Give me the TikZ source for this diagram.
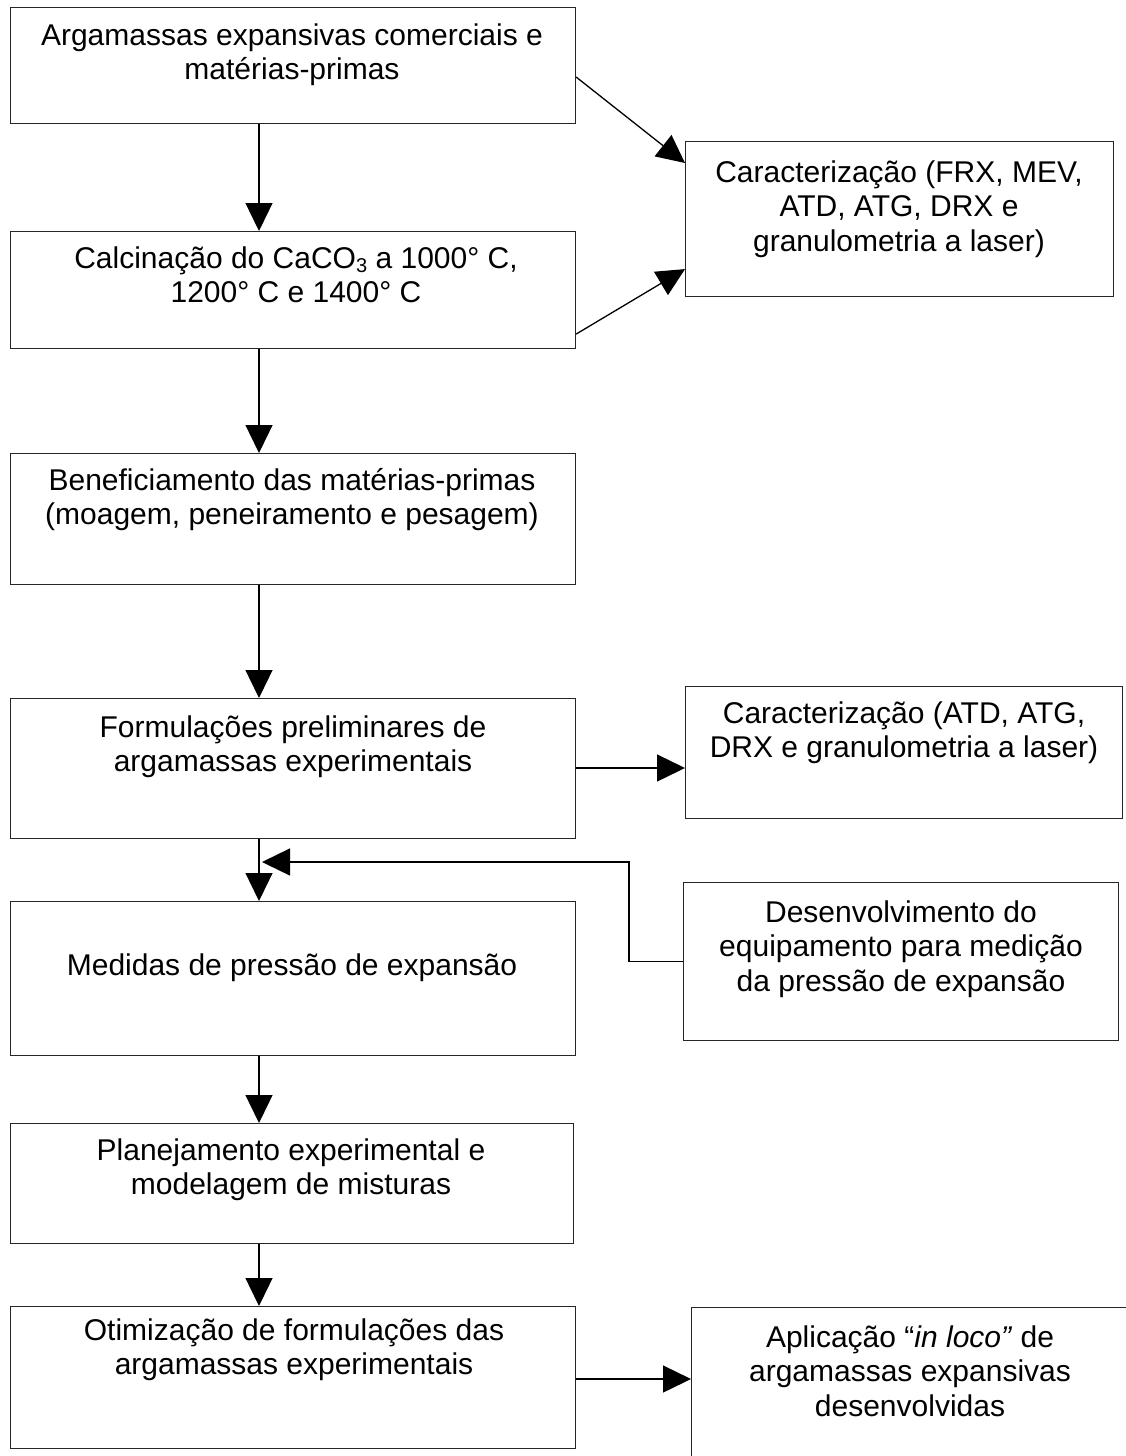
\documentclass[tikz,border=0pt]{standalone}
\usepackage{fontspec}
\setmainfont{Liberation Sans}
\usetikzlibrary{arrows.meta}
\begin{document}
\begin{tikzpicture}[x=1pt,y=-1pt,
  box/.style={draw=black!85, line width=1.1pt, rectangle, inner sep=0pt, anchor=north west},
  txt/.style={align=center, anchor=base, inner sep=0pt, font=\fontsize{30}{34.5}\selectfont},
  arr/.style={-{Triangle[length=28pt,width=27pt]}, line width=1.3pt, black}]
\useasboundingbox (0,0) rectangle (1126,1456);
\clip (0,0) rectangle (1126,1456);
% boxes
\node[box, minimum width=565pt, minimum height=116pt] (b1) at (10,7) {};
\node[box, minimum width=565pt, minimum height=117pt] (b2) at (10,231) {};
\node[box, minimum width=428pt, minimum height=155pt] (c1) at (685,141) {};
\node[box, minimum width=565pt, minimum height=131pt] (b3) at (10,453) {};
\node[box, minimum width=565pt, minimum height=140pt] (b4) at (10,698) {};
\node[box, minimum width=437pt, minimum height=132pt] (c2) at (685,686) {};
\node[box, minimum width=565pt, minimum height=154pt] (b5) at (10,901) {};
\node[box, minimum width=435pt, minimum height=158pt] (d) at (683,882) {};
\node[box, minimum width=563pt, minimum height=120pt] (b6) at (10,1123) {};
\node[box, minimum width=565pt, minimum height=142pt] (b7) at (10,1306) {};
\node[box, minimum width=470pt, minimum height=180pt] (ap) at (691,1307) {};
% texts (anchor base = baseline of the last line)
\node[txt] (t1) at (292,79.5) {Argamassas expansivas comerciais e\\matérias-primas};
\node[txt] (t2) at (296,302.5) {Calcinação do CaCO\raisebox{-4pt}{\fontsize{20}{20}\selectfont 3} a 1000° C,\\1200° C e 1400° C};
\node[txt] (tc1) at (899,251) {Caracterização (FRX, MEV,\\ATD, ATG, DRX e\\granulometria a laser)};
\node[txt] (t3) at (292,524.5) {Beneficiamento das matérias-primas\\(moagem, peneiramento e pesagem)};
\node[txt] (t4) at (293,771.5) {Formulações preliminares de\\argamassas experimentais};
\node[txt] (tc2) at (904,757.5) {Caracterização (ATD, ATG,\\DRX e granulometria a laser)};
\node[txt] (t5) at (292,975) {Medidas de pressão de expansão};
\node[txt] (td) at (901,991) {Desenvolvimento do\\equipamento para medição\\da pressão de expansão};
\node[txt] (t6) at (291,1194.5) {Planejamento experimental e\\modelagem de misturas};
\node[txt] (t7) at (294,1374.5) {Otimização de formulações das\\argamassas experimentais};
\node[txt] (tap) at (910,1416) {Aplicação “\textit{in loco”} de\\argamassas expansivas\\desenvolvidas};
% connectors
\draw[arr] ([xshift=249pt]b1.south west) -- ([xshift=249pt]b2.north west);
\draw[arr] ([xshift=249pt]b2.south west) -- ([xshift=249pt]b3.north west);
\draw[arr] ([xshift=249pt]b3.south west) -- ([xshift=249pt]b4.north west);
\draw[arr] ([xshift=249pt]b4.south west) -- ([xshift=249pt]b5.north west);
\draw[arr] ([xshift=249pt]b5.south west) -- ([xshift=249pt]b6.north west);
\draw[arr] ([xshift=249pt]b6.south west) -- ([xshift=249pt]b7.north west);
\draw[arr] ([yshift=-70pt]b1.north east) -- ([yshift=-22pt]c1.north west);
\draw[arr] ([yshift=15pt]b2.south east) -- ([yshift=28pt]c1.south west);
\draw[arr] ([yshift=-70pt]b4.north east) -- ([yshift=-82pt]c2.north west);
\draw[arr] ([yshift=-73pt]b7.north east) -- ([yshift=-72pt]ap.north west);
\coordinate (fb) at (629,862);
\coordinate (j) at (262,862);
\draw[arr] (d.west) -| (fb) -- (j);
\end{tikzpicture}
\end{document}
